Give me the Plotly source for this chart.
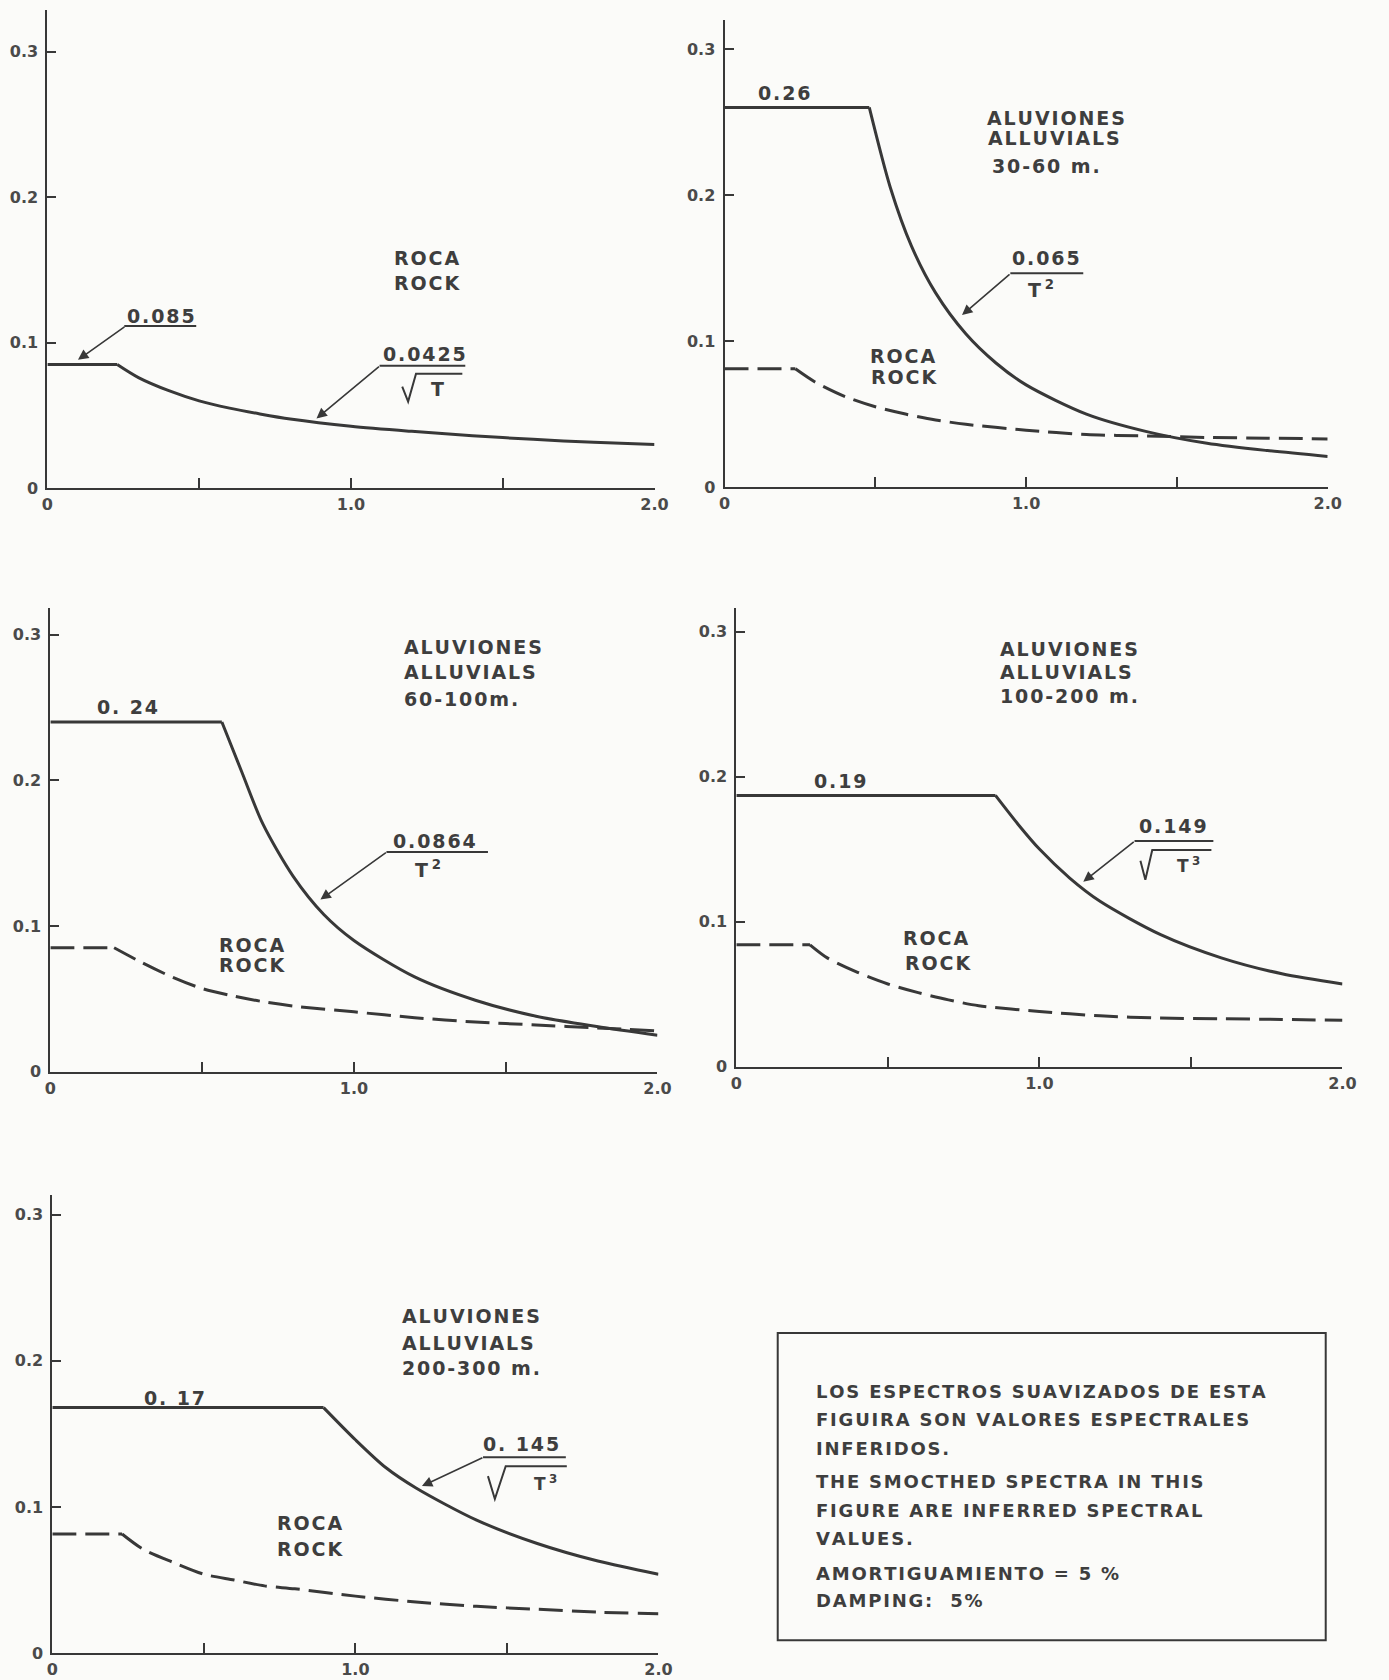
import plotly.graph_objects as go

W, H = 1389, 1680
FONT = "DejaVu Sans"
INK = "#383838"
TXT = "#3e3e3e"
BG = "#fbfbf9"

# ---------------- data ----------------
# Panel 1 : rock only
T_p1_rock = [0, 0.23, 0.3, 0.4, 0.5, 0.6, 0.7, 0.8, 1.0, 1.2, 1.4, 1.6, 1.8, 2.0]
Sa_p1_rock = [0.085, 0.085, 0.076, 0.067, 0.060, 0.055, 0.051, 0.0475, 0.0425, 0.039, 0.036, 0.0335, 0.0315, 0.030]

# Panel 2 : alluvials 30-60 m
T_p2_all = [0, 0.48, 0.55, 0.62, 0.7, 0.8, 0.9, 1.0, 1.2, 1.4, 1.6, 1.8, 2.0]
Sa_p2_all = [0.26, 0.26, 0.205, 0.165, 0.133, 0.105, 0.085, 0.070, 0.050, 0.038, 0.030, 0.025, 0.021]
T_p2_rock = [0, 0.235, 0.3, 0.4, 0.5, 0.6, 0.7, 0.8, 1.0, 1.2, 1.4, 1.6, 1.8, 2.0]
Sa_p2_rock = [0.081, 0.081, 0.072, 0.062, 0.055, 0.050, 0.046, 0.043, 0.039, 0.036, 0.035, 0.034, 0.0335, 0.033]

# Panel 3 : alluvials 60-100 m
T_p3_all = [0, 0.565, 0.63, 0.7, 0.8, 0.9, 1.0, 1.2, 1.4, 1.6, 1.8, 2.0]
Sa_p3_all = [0.24, 0.24, 0.206, 0.170, 0.134, 0.108, 0.090, 0.065, 0.049, 0.038, 0.031, 0.025]
T_p3_rock = [0, 0.21, 0.3, 0.4, 0.5, 0.6, 0.7, 0.8, 1.0, 1.2, 1.4, 1.6, 1.8, 2.0]
Sa_p3_rock = [0.085, 0.085, 0.075, 0.065, 0.057, 0.052, 0.048, 0.045, 0.041, 0.037, 0.034, 0.032, 0.030, 0.028]

# Panel 4 : alluvials 100-200 m
T_p4_all = [0, 0.855, 0.93, 1.0, 1.1, 1.2, 1.4, 1.6, 1.8, 2.0]
Sa_p4_all = [0.187, 0.187, 0.167, 0.150, 0.130, 0.114, 0.091, 0.075, 0.064, 0.057]
T_p4_rock = [0, 0.243, 0.3, 0.4, 0.5, 0.6, 0.7, 0.8, 1.0, 1.2, 1.4, 1.6, 1.8, 2.0]
Sa_p4_rock = [0.084, 0.084, 0.075, 0.065, 0.057, 0.051, 0.046, 0.042, 0.038, 0.035, 0.0335, 0.033, 0.0325, 0.032]

# Panel 5 : alluvials 200-300 m
T_p5_all = [0, 0.895, 1.0, 1.1, 1.2, 1.4, 1.6, 1.8, 2.0]
Sa_p5_all = [0.168, 0.168, 0.146, 0.127, 0.113, 0.091, 0.075, 0.063, 0.054]
T_p5_rock = [0, 0.23, 0.3, 0.4, 0.5, 0.6, 0.7, 0.8, 1.0, 1.2, 1.4, 1.6, 1.8, 2.0]
Sa_p5_rock = [0.0815, 0.0815, 0.071, 0.062, 0.054, 0.050, 0.046, 0.044, 0.039, 0.035, 0.032, 0.030, 0.028, 0.027]

x_tickvals = [0, 0.5, 1.0, 1.5, 2.0]
x_ticktext = ["0", "", "1.0", "", "2.0"]
y_tickvals = [0, 0.1, 0.2, 0.3]
y_ticktext = ["0", "0.1", "0.2", "0.3"]

box_lines = [
    "LOS ESPECTROS SUAVIZADOS DE ESTA",
    "FIGUIRA SON VALORES ESPECTRALES",
    "INFERIDOS.",
    "THE SMOCTHED SPECTRA IN THIS",
    "FIGURE ARE INFERRED SPECTRAL",
    "VALUES.",
    "AMORTIGUAMIENTO = 5 %",
    "DAMPING:  5%",
]

# ---------------- layout helpers ----------------
def px(x):
    return x / W

def py(y):
    return 1 - y / H

def sp(s, gap="\u200a"):
    return gap.join(list(s))

# panel boxes in pixels: (x0, x2, y0_px, ytop_px, ymax)
panels = [
    (42, 658, 491, 10, 0.3288),
    (729, 1341, 490, 20, 0.320),
    (45, 661, 1078, 612, 0.318),
    (741, 1356, 1073, 612, 0.316),
    (47, 662, 1663, 1202, 0.3136),
]

TICKFONT = dict(family=FONT, size=16, color="#4a4a4a", weight="bold")

fig = go.Figure()
layout_axes = {}
for i, (x0, x2, y0, yt, ymax) in enumerate(panels, start=1):
    sfx = "" if i == 1 else str(i)
    layout_axes["xaxis" + sfx] = dict(
        domain=[px(x0), px(x2)], anchor="y" + sfx, range=[0, 2.0],
        tickvals=x_tickvals, ticktext=x_ticktext, ticks="inside", ticklen=10,
        tickwidth=2, tickcolor=INK, showline=True, linecolor=INK, linewidth=2,
        showgrid=False, zeroline=False, fixedrange=True, ticklabelstandoff=1,
        tickfont=TICKFONT,
    )
    layout_axes["yaxis" + sfx] = dict(
        domain=[py(y0), py(yt)], anchor="x" + sfx, range=[0, ymax],
        tickvals=y_tickvals, ticktext=y_ticktext, ticks="inside", ticklen=9,
        tickwidth=2, tickcolor=INK, showline=True, linecolor=INK, linewidth=2,
        showgrid=False, zeroline=False, fixedrange=True, ticklabelstandoff=4,
        tickfont=TICKFONT,
    )

def add_curve(T, Sa, panel, dashed):
    sfx = "" if panel == 1 else str(panel)
    line = dict(color=INK, width=3)
    if dashed:
        line["dash"] = "24px,9px"
    fig.add_trace(go.Scatter(x=T[:2], y=Sa[:2], mode="lines", line=line,
                             xaxis="x" + sfx, yaxis="y" + sfx, hoverinfo="skip"))
    l2 = dict(line)
    l2["shape"] = "spline"
    l2["smoothing"] = 0.8
    fig.add_trace(go.Scatter(x=T[1:], y=Sa[1:], mode="lines", line=l2,
                             xaxis="x" + sfx, yaxis="y" + sfx, hoverinfo="skip"))

add_curve(T_p1_rock, Sa_p1_rock, 1, False)
add_curve(T_p2_rock, Sa_p2_rock, 2, True)
add_curve(T_p2_all, Sa_p2_all, 2, False)
add_curve(T_p3_rock, Sa_p3_rock, 3, True)
add_curve(T_p3_all, Sa_p3_all, 3, False)
add_curve(T_p4_rock, Sa_p4_rock, 4, True)
add_curve(T_p4_all, Sa_p4_all, 4, False)
add_curve(T_p5_rock, Sa_p5_rock, 5, True)
add_curve(T_p5_all, Sa_p5_all, 5, False)

annotations = []
shapes = []

def txt(s, x, y, size=19, anchor="center", raw=False):
    annotations.append(dict(
        text=s if raw else sp(s), x=px(x), y=py(y), xref="paper", yref="paper",
        showarrow=False, xanchor=anchor, yanchor="middle",
        font=dict(family=FONT, size=size, color=TXT, weight="bold")))

def arrow(tx, ty, sx, sy):
    annotations.append(dict(
        text="", x=px(tx), y=py(ty), xref="paper", yref="paper",
        ax=sx - tx, ay=sy - ty, showarrow=True, arrowhead=2, arrowsize=1.3,
        arrowwidth=1.6, arrowcolor=INK, standoff=0))

def hline(xa, xb, y):
    shapes.append(dict(type="line", xref="paper", yref="paper",
                       x0=px(xa), x1=px(xb), y0=py(y), y1=py(y),
                       line=dict(color=INK, width=2)))

def radical(pts):
    d = "M " + " L ".join(f"{px(a):.5f},{py(b):.5f}" for a, b in pts)
    shapes.append(dict(type="path", xref="paper", yref="paper", path=d,
                       line=dict(color=INK, width=2)))

# Panel 1
txt("0.085", 157, 318)
hline(120, 193, 328)
arrow(73, 362, 121, 328)
txt("ROCA", 427, 260)
txt("ROCK", 427, 285)
txt("0.0425", 425, 356)
hline(379, 466, 368)
radical([(402, 389), (408, 404), (416, 376), (463, 376)])
txt("T", 438, 391)
arrow(315, 421, 379, 368)

# Panel 2
txt("0.26", 790, 94)
txt("ALUVIONES", 993, 119, anchor="left")
txt("ALLUVIALS", 994, 139, anchor="left")
txt("30-60 m.", 998, 167, anchor="left")
txt("0.065", 1055, 260)
hline(1019, 1093, 275)
txt("T\u2009<sup>2</sup>", 1050, 291, raw=True)
arrow(970, 317, 1019, 275)
txt("ROCA", 875, 358, anchor="left")
txt("ROCK", 876, 379, anchor="left")

# Panel 3
txt("0. 24", 123, 711)
txt("ALUVIONES", 402, 651, anchor="left")
txt("ALLUVIALS", 402, 676, anchor="left")
txt("60-100m.", 402, 703, anchor="left")
txt("0.0864", 435, 846)
hline(386, 489, 857)
txt("T\u2009<sup>2</sup>", 428, 874, raw=True)
arrow(319, 905, 386, 857)
txt("ROCA", 214, 951, anchor="left")
txt("ROCK", 214, 971, anchor="left")

# Panel 4
txt("0.19", 847, 786)
txt("ALUVIONES", 1006, 653, anchor="left")
txt("ALLUVIALS", 1006, 676, anchor="left")
txt("100-200 m.", 1006, 700, anchor="left")
txt("0.149", 1184, 831)
hline(1145, 1225, 846)
radical([(1151, 866), (1156, 885), (1163, 855), (1223, 855)])
txt("T\u2009<sup>3</sup>", 1200, 870, size=17, raw=True)
arrow(1093, 887, 1145, 846)
txt("ROCA", 908, 944, anchor="left")
txt("ROCK", 910, 969, anchor="left")

# Panel 5
txt("0. 145", 523, 1453)
txt("0. 17", 171, 1406)
txt("ALUVIONES", 400, 1324, anchor="left")
txt("ALLUVIALS", 400, 1351, anchor="left")
txt("200-300 m.", 400, 1376, anchor="left")
hline(484, 568, 1466)
radical([(489, 1485), (496, 1508), (507, 1475), (569, 1475)])
txt("T\u2009<sup>3</sup>", 547, 1492, size=17, raw=True)
arrow(422, 1495, 484, 1466)
txt("ROCA", 273, 1532, anchor="left")
txt("ROCK", 273, 1558, anchor="left")

# Text box
shapes.append(dict(type="rect", xref="paper", yref="paper",
                   x0=px(783), x1=px(1339), y0=py(1650), y1=py(1341),
                   line=dict(color=INK, width=2), fillcolor="rgba(0,0,0,0)"))
box_y = [1400, 1428, 1457, 1490, 1520, 1548, 1583, 1610]
for line_txt, yy in zip(box_lines, box_y):
    txt(line_txt, 820, yy, size=18, anchor="left")

fig.update_layout(
    width=W, height=H, margin=dict(l=0, r=0, t=0, b=0),
    paper_bgcolor=BG, plot_bgcolor=BG, showlegend=False,
    annotations=annotations, shapes=shapes, **layout_axes,
)

fig.write_html("out.html", config={"displayModeBar": False},
               post_script="document.body.style.margin='0';")
